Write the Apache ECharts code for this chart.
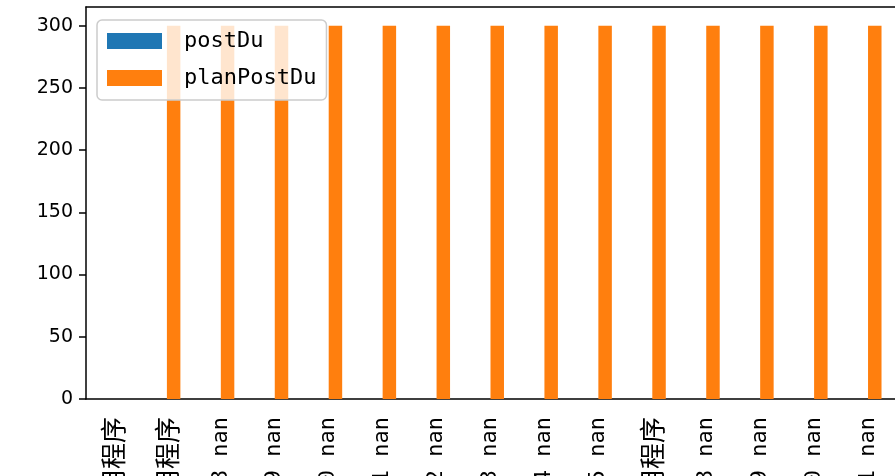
<!DOCTYPE html>
<html>
<head>
<meta charset="utf-8">
<script src="https://cdn.jsdelivr.net/npm/echarts@6/dist/echarts.min.js"></script>
<style>
html,body{margin:0;padding:0;background:#fff;}
#chart{width:895px;height:476px;}
</style>
</head>
<body>
<div id="chart"></div>
<script>
const categories = [
  "2023-06-06 应用程序", "2023-06-07 应用程序", "2023-06-08 nan", "2023-06-09 nan",
  "2023-06-10 nan", "2023-06-11 nan", "2023-06-12 nan", "2023-06-13 nan",
  "2023-06-14 nan", "2023-06-15 nan", "2023-06-17 应用程序", "2023-06-18 nan",
  "2023-06-19 nan", "2023-06-20 nan", "2023-06-21 nan"
];
const postDu = [null, null, null, null, null, null, null, null, null, null, null, null, null, null, null];
const planPostDu = [null, 300, 300, 300, 300, 300, 300, 300, 300, 300, 300, 300, 300, 300, 300];
const yTicks = [0, 50, 100, 150, 200, 250, 300];

// split a label into CJK / latin runs so each can use a SimHei-like width
function richLabel(s) {
  const parts = s.match(/[\u3400-\u9fff]+|[^\u3400-\u9fff]+/g) || [];
  return parts.map(p => (/[\u3400-\u9fff]/.test(p) ? '{c|' + p + '}' : '{l|' + p + '}')).join('');
}

const chart = echarts.init(document.getElementById('chart'), null, {renderer: 'canvas'});
chart.setOption({
  animation: false,
  backgroundColor: '#fff',
  grid: {left: 86, right: 0, top: 7, bottom: 77, containLabel: false, outerBoundsMode: 'none'},
  legend: {
    orient: 'vertical',
    left: 97, top: 20,
    padding: [10, 10, 11, 10],
    itemWidth: 55, itemHeight: 16, itemGap: 15,
    backgroundColor: 'rgba(255,255,255,0.8)',
    borderColor: '#cccccc', borderWidth: 1.5, borderRadius: 5,
    icon: 'rect',
    textStyle: {fontFamily: "'DejaVu Sans Mono', monospace", fontSize: 22, color: '#000', padding: [0, 0, 0, 17]},
    data: ['postDu', 'planPostDu']
  },
  xAxis: [
    {
      type: 'category', data: categories, position: 'bottom',
      axisLine: {lineStyle: {color: '#000', width: 1.5}},
      axisTick: {alignWithLabel: true, length: 7, lineStyle: {color: '#000', width: 1.5}},
      axisLabel: {
        rotate: 90, margin: 18, interval: 0, hideOverlap: false, color: '#000',
        formatter: richLabel,
        rich: {
          l: {fontFamily: "'DejaVu Sans Mono', monospace", fontSize: 22, color: '#000'},
          c: {fontFamily: "'Noto Sans CJK SC', sans-serif", fontSize: 26, color: '#000'}
        }
      },
      splitLine: {show: false}
    },
    {
      type: 'category', data: categories, position: 'top',
      axisLine: {lineStyle: {color: '#000', width: 1.5}},
      axisTick: {show: false}, axisLabel: {show: false}, splitLine: {show: false}
    }
  ],
  yAxis: {
    type: 'value', min: 0, max: 315, interval: 50,
    axisLine: {show: true, lineStyle: {color: '#000', width: 1.5}},
    axisTick: {show: true, length: 7, customValues: yTicks, lineStyle: {color: '#000', width: 1.5}},
    axisLabel: {margin: 13, customValues: yTicks, fontFamily: "'DejaVu Sans', sans-serif", fontSize: 19, color: '#000'},
    splitLine: {show: false}
  },
  series: [
    {name: 'postDu', type: 'bar', xAxisIndex: 0, data: postDu,
     barWidth: '25%', barGap: '0%', itemStyle: {color: '#1f77b4'}},
    {name: 'planPostDu', type: 'bar', xAxisIndex: 0, data: planPostDu,
     barWidth: '25%', barGap: '0%', itemStyle: {color: '#ff7f0e'}}
  ]
});
</script>
</body>
</html>
